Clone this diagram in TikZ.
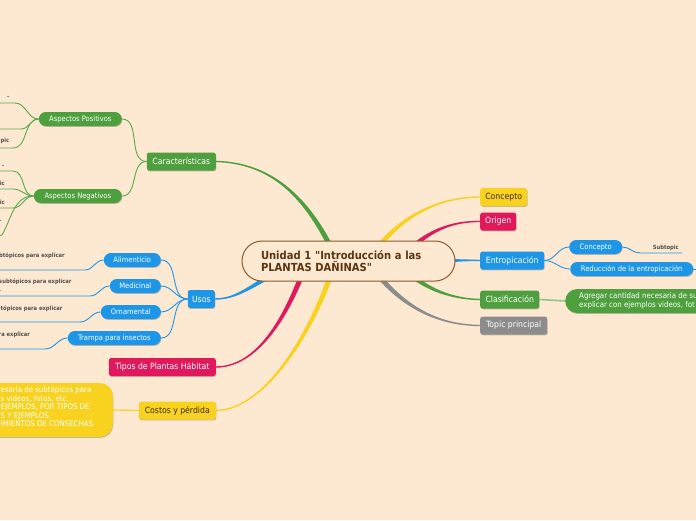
\documentclass[tikz,border=0pt]{standalone}
\usepackage{fontspec}
\usetikzlibrary{calc,shadows}
\newfontfamily\dv[FakeStretch=0.9]{DejaVu Sans}
\newcommand\fRoot{\dv\bfseries\fontsize{11.1}{12.3}\selectfont}
\newcommand\fA{\dv\fontsize{8.6}{10}\selectfont}
\newcommand\fB{\dv\fontsize{7.5}{9}\selectfont}
\newcommand\fS{\dv\bfseries\fontsize{5.8}{8}\selectfont}
\newcommand\fT{\dv\fontsize{7.8}{8.5}\selectfont}
\newcommand\fU{\dv\fontsize{7.8}{9}\selectfont}
\definecolor{bgc}{HTML}{FDE8D1}
\definecolor{gr}{HTML}{4E9F3D}
\definecolor{grl}{HTML}{5AAA48}
\definecolor{grp}{HTML}{93C77F}
\definecolor{bl}{HTML}{1E96E8}
\definecolor{cr}{HTML}{E2185C}
\definecolor{ye}{HTML}{F9D21F}
\definecolor{gy}{HTML}{8C8C8C}
\definecolor{rootb}{HTML}{8B5A2B}
\definecolor{roott}{HTML}{5A3511}
\definecolor{subt}{HTML}{505050}
\definecolor{dark}{HTML}{3A2A0A}
\pgfdeclarelayer{back}
\pgfdeclarelayer{bg}
\pgfsetlayers{back,bg,main}
\newcommand\taper[6]{%
\fill[#5] ($(#1)!#6!90:(#2)$) .. controls ($(#2)!#6!-90:(#1)$) and ($(#3)!0.7pt!90:(#4)$) .. ($(#4)!0.7pt!-90:(#3)$) -- ($(#4)!0.7pt!90:(#3)$) .. controls ($(#3)!0.7pt!-90:(#4)$) and ($(#2)!#6!90:(#1)$) .. ($(#1)!#6!-90:(#2)$) -- cycle;}
\tikzset{
  shad/.style={drop shadow={shadow xshift=0.5pt,shadow yshift=-0.9pt,opacity=0.22,fill=black}},
  rootbox/.style={draw=rootb,line width=1pt,fill=bgc,rounded corners=20pt,minimum width=213pt,minimum height=40pt,text width=175pt,align=left,inner xsep=19pt,inner ysep=0pt,font=\fRoot,text=roott},
  L1/.style={rounded corners=2.5pt,minimum height=18pt,inner sep=0pt,font=\fA,text=white,shad},
  L2/.style={rounded corners=7pt,minimum height=14pt,inner sep=0pt,font=\fB,text=white,shad},
  sub/.style={font=\fS,text=subt,inner sep=0pt},
  bigtxt/.style={text=white,align=left,inner sep=0pt},
  gline/.style={draw=grl,line width=0.9pt},
  bline/.style={draw=bl,line width=0.9pt},
}
\begin{document}
\begin{tikzpicture}[x=1pt,y=-1pt]
\useasboundingbox (0,0) rectangle (696,520);
\begin{pgfonlayer}{back}
\fill[bgc] (0,0) rectangle (696,520);
\end{pgfonlayer}
\clip (0,0) rectangle (696,520);

% root
\node[rootbox] (root) at (348.5,261) {Unidad 1 "Introducción a las\\PLANTAS DAÑINAS"};

% level 1 left
\node[L1,fill=gr,minimum width=69pt,anchor=east] (cara) at (216,161.5) {Características};
\node[L1,fill=bl,minimum width=27pt,anchor=east] (usos) at (215,299) {Usos};
\node[L1,fill=cr,minimum width=107pt,anchor=east] (tipos) at (216,367) {Tipos de Plantas Hábitat};
\node[L1,fill=ye,text=dark,minimum width=77pt,anchor=east] (costos) at (216,410.5) {Costos y pérdida};
% level 1 right
\node[L1,fill=ye,text=dark,minimum width=47pt,anchor=west] (conc) at (480,197) {Concepto};
\node[L1,fill=cr,minimum width=36pt,anchor=west] (orig) at (480,221.5) {Origen};
\node[L1,fill=bl,minimum width=64pt,anchor=west] (entro) at (480,260.5) {Entropicación};
\node[L1,fill=gr,minimum width=59pt,anchor=west] (clas) at (480,299.5) {Clasificación};
\node[L1,fill=gy,minimum width=67pt,anchor=west] (topic) at (480,325.5) {Topic principal};

% level 2
\node[L2,fill=gr,minimum width=83pt,anchor=east] (apos) at (122,119) {Aspectos Positivos};
\node[L2,fill=gr,minimum width=88pt,anchor=east] (aneg) at (122,196) {Aspectos Negativos};
\node[L2,fill=bl,minimum width=57pt,anchor=east] (alim) at (161,260) {Alimenticio};
\node[L2,fill=bl,minimum width=51pt,anchor=east] (medi) at (161,286) {Medicinal};
\node[L2,fill=bl,minimum width=60pt,anchor=east] (orna) at (161,312) {Ornamental};
\node[L2,fill=bl,minimum width=93pt,anchor=east] (tramp) at (161,338) {Trampa para insectos};
\node[L2,fill=bl,minimum width=53pt,anchor=west] (conc2) at (569,247) {Concepto};
\node[L2,fill=bl,minimum width=123pt,anchor=west] (redu) at (570,269) {Reducción de la entropicación};

% big boxes
\node[fill=ye,rounded corners=13pt,minimum width=140pt,minimum height=54pt,inner sep=0pt,anchor=east,shad] (cbig) at (113,410) {};
\node[bigtxt,font=\fT,anchor=west] (cbigt) at (0.5,406.5) {esaria de subtópicos para\\s videos, fotos, etc.\\EJEMPLOS, POR TIPOS DE\\S Y EJEMPLOS,\\IMIENTOS DE CONSECHAS};
\node[fill=gr,rounded corners=12pt,minimum width=160pt,minimum height=24pt,inner sep=0pt,anchor=west,shad] (clbig) at (565,301) {};
\node[bigtxt,font=\fU,anchor=west] (clbigt) at (579,301) {Agregar cantidad necesaria de su\\explicar con ejemplos videos, fot};

% subtopic labels
\node[sub,anchor=east] (s1) at (9.5,97) {-};
\node[sub,anchor=east] (s2) at (9.5,141) {pic};
\node[sub,anchor=east] (s3) at (4.5,166) {-};
\node[sub,anchor=east] (s4) at (5,183) {ic};
\node[sub,anchor=east] (s5) at (5,202) {ic};
\node[sub,anchor=east] (s6) at (1.5,221) {.};
\node[sub,anchor=west] (s7) at (-1,256) {btópicos para explicar};
\node[sub,anchor=north west,align=left] (s8) at (-1,279) {subtópicos para explicar\\.};
\node[sub,anchor=west] (s9) at (0.5,308.5) {tópicos para explicar};
\node[sub,anchor=west] (s10) at (-1.5,334.5) {ra explicar};
\node[sub,anchor=east] (s11) at (679,248) {Subtopic};

% coordinates for free ends
\coordinate (p1) at (15,103); \coordinate (p1e) at (-3,103);
\coordinate (p2) at (21,129); \coordinate (p2e) at (-3,129);
\coordinate (p3) at (13,148); \coordinate (p3e) at (-3,148);
\coordinate (n1) at (13,171); \coordinate (n1e) at (-3,171);
\coordinate (n2) at (13,189); \coordinate (n2e) at (-3,189);
\coordinate (n3) at (13,208); \coordinate (n3e) at (-3,208);
\coordinate (n4) at (2,235); \coordinate (n4e) at (-3,236);
\coordinate (u1) at (85,270); \coordinate (u1e) at (-3,270);
\coordinate (u2) at (90,296); \coordinate (u2e) at (-3,296);
\coordinate (u3) at (80,322); \coordinate (u3e) at (-3,322);
\coordinate (u4) at (45,349); \coordinate (u4e) at (-3,349);
\coordinate (e1) at (640,253); \coordinate (e1e) at (682,253);
\coordinate (e2) at (700,269);

% root branch start points
\coordinate (rCara) at (338,262);
\coordinate (rUsos) at (296,262);
\coordinate (rTipos) at (308,258);
\coordinate (rCost) at (336,258);
\coordinate (rConc) at (368,262);
\coordinate (rOrig) at (398,262);
\coordinate (rEnt) at (420,261);
\coordinate (rClas) at (398,262);
\coordinate (rTop) at (368,262);

\begin{pgfonlayer}{bg}
\taper{rCara}{315,212}{282,163}{cara.east}{gr}{2.6pt}
\taper{rUsos}{255,282}{240,299}{usos.east}{bl}{2.6pt}
\taper{rTipos}{292,305}{262,367}{tipos.east}{cr}{2.6pt}
\taper{rCost}{318,322}{268,410}{costos.east}{ye}{2.6pt}
\taper{rConc}{390,225}{430,197}{conc.west}{ye}{2.6pt}
\taper{rOrig}{420,236}{445,221}{orig.west}{cr}{2.6pt}
\taper{rEnt}{450,261}{460,260}{entro.west}{bl}{2.2pt}
\taper{rClas}{420,288}{450,299}{clas.west}{gr}{2.6pt}
\taper{rTop}{395,300}{430,325}{topic.west}{gy}{2.6pt}

\draw[gline] (cara.west) to[out=180,in=0] (apos.east);
\draw[gline] (cara.west) to[out=180,in=0] (aneg.east);
\draw[gline] (apos.west) to[out=180,in=0] (p1) -- (p1e);
\draw[gline] (apos.west) to[out=180,in=0] (p2) -- (p2e);
\draw[gline] (apos.west) to[out=180,in=0] (p3) -- (p3e);
\draw[gline] (aneg.west) to[out=180,in=0] (n1) -- (n1e);
\draw[gline] (aneg.west) to[out=180,in=0] (n2) -- (n2e);
\draw[gline] (aneg.west) to[out=180,in=0] (n3) -- (n3e);
\draw[gline] (aneg.west) to[out=180,in=60] (n4) -- (n4e);

\draw[bline] (usos.west) to[out=180,in=0] (alim.east);
\draw[bline] (usos.west) to[out=180,in=0] (medi.east);
\draw[bline] (usos.west) to[out=180,in=0] (orna.east);
\draw[bline] (usos.west) to[out=180,in=0] (tramp.east);
\draw[bline] (alim.west) to[out=180,in=0] (u1) -- (u1e);
\draw[bline] (medi.west) to[out=180,in=0] (u2) -- (u2e);
\draw[bline] (orna.west) to[out=180,in=0] (u3) -- (u3e);
\draw[bline] (tramp.west) to[out=180,in=0] (u4) -- (u4e);

\draw[bline] (entro.east) to[out=0,in=180] (conc2.west);
\draw[bline] (entro.east) to[out=0,in=180] (redu.west);
\draw[bline] (conc2.east) to[out=0,in=180] (e1) -- (e1e);
\draw[bline] (redu.east) -- (e2);

\draw[draw=ye,line width=1.2pt] (costos.west) -- (cbig.east);
\draw[draw=grp,line width=1.6pt] (clas.east) -- (clbig.west);
\end{pgfonlayer}
\end{tikzpicture}
\end{document}
